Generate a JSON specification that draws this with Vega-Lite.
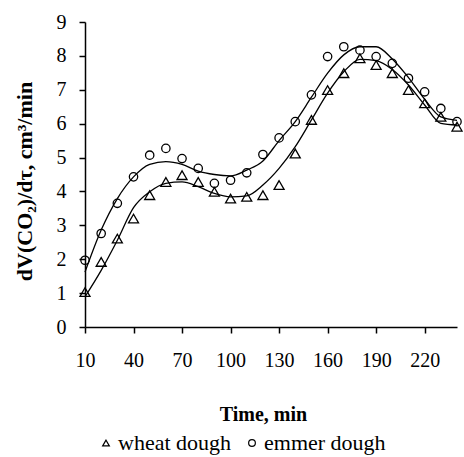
{
 "$schema": "https://vega.github.io/schema/vega-lite/v6.json",
 "width": 372,
 "height": 305,
 "autosize": {"type": "none"},
 "padding": {"left": 85, "top": 22, "right": 7, "bottom": 130},
 "background": "white",
 "config": {
  "view": {"stroke": null},
  "font": "Liberation Serif",
  "axis": {
   "domainColor": "black", "tickColor": "black", "labelColor": "black", "titleColor": "black",
   "labelFont": "Liberation Serif", "titleFont": "Liberation Serif",
   "labelFontSize": 20, "domainWidth": 1.5, "tickWidth": 1.5, "tickSize": 6, "grid": false
  },
  "legend": {"labelFont": "Liberation Serif", "labelColor": "black"}
 },
 "data": {"values": [
  {"series": "wheat dough", "kind": "obs", "time": 10, "value": 1.03},
  {"series": "wheat dough", "kind": "obs", "time": 20, "value": 1.92},
  {"series": "wheat dough", "kind": "obs", "time": 30, "value": 2.61},
  {"series": "wheat dough", "kind": "obs", "time": 40, "value": 3.20},
  {"series": "wheat dough", "kind": "obs", "time": 50, "value": 3.89},
  {"series": "wheat dough", "kind": "obs", "time": 60, "value": 4.28},
  {"series": "wheat dough", "kind": "obs", "time": 70, "value": 4.48},
  {"series": "wheat dough", "kind": "obs", "time": 80, "value": 4.28},
  {"series": "wheat dough", "kind": "obs", "time": 90, "value": 3.99},
  {"series": "wheat dough", "kind": "obs", "time": 100, "value": 3.79},
  {"series": "wheat dough", "kind": "obs", "time": 110, "value": 3.84},
  {"series": "wheat dough", "kind": "obs", "time": 120, "value": 3.89},
  {"series": "wheat dough", "kind": "obs", "time": 130, "value": 4.19},
  {"series": "wheat dough", "kind": "obs", "time": 140, "value": 5.12},
  {"series": "wheat dough", "kind": "obs", "time": 150, "value": 6.11},
  {"series": "wheat dough", "kind": "obs", "time": 160, "value": 6.99},
  {"series": "wheat dough", "kind": "obs", "time": 170, "value": 7.49},
  {"series": "wheat dough", "kind": "obs", "time": 180, "value": 7.93},
  {"series": "wheat dough", "kind": "obs", "time": 190, "value": 7.73},
  {"series": "wheat dough", "kind": "obs", "time": 200, "value": 7.49},
  {"series": "wheat dough", "kind": "obs", "time": 210, "value": 6.99},
  {"series": "wheat dough", "kind": "obs", "time": 220, "value": 6.60},
  {"series": "wheat dough", "kind": "obs", "time": 230, "value": 6.20},
  {"series": "wheat dough", "kind": "obs", "time": 240, "value": 5.91},
  {"series": "emmer dough", "kind": "obs", "time": 10, "value": 1.97},
  {"series": "emmer dough", "kind": "obs", "time": 20, "value": 2.76},
  {"series": "emmer dough", "kind": "obs", "time": 30, "value": 3.65},
  {"series": "emmer dough", "kind": "obs", "time": 40, "value": 4.43},
  {"series": "emmer dough", "kind": "obs", "time": 50, "value": 5.07},
  {"series": "emmer dough", "kind": "obs", "time": 60, "value": 5.27},
  {"series": "emmer dough", "kind": "obs", "time": 70, "value": 4.97},
  {"series": "emmer dough", "kind": "obs", "time": 80, "value": 4.68},
  {"series": "emmer dough", "kind": "obs", "time": 90, "value": 4.24},
  {"series": "emmer dough", "kind": "obs", "time": 100, "value": 4.33},
  {"series": "emmer dough", "kind": "obs", "time": 110, "value": 4.55},
  {"series": "emmer dough", "kind": "obs", "time": 120, "value": 5.09},
  {"series": "emmer dough", "kind": "obs", "time": 130, "value": 5.58},
  {"series": "emmer dough", "kind": "obs", "time": 140, "value": 6.06},
  {"series": "emmer dough", "kind": "obs", "time": 150, "value": 6.85},
  {"series": "emmer dough", "kind": "obs", "time": 160, "value": 7.98},
  {"series": "emmer dough", "kind": "obs", "time": 170, "value": 8.27},
  {"series": "emmer dough", "kind": "obs", "time": 180, "value": 8.17},
  {"series": "emmer dough", "kind": "obs", "time": 190, "value": 7.98},
  {"series": "emmer dough", "kind": "obs", "time": 200, "value": 7.78},
  {"series": "emmer dough", "kind": "obs", "time": 210, "value": 7.34},
  {"series": "emmer dough", "kind": "obs", "time": 220, "value": 6.94},
  {"series": "emmer dough", "kind": "obs", "time": 230, "value": 6.45},
  {"series": "emmer dough", "kind": "obs", "time": 240, "value": 6.06},
  {"series": "wheat dough", "kind": "fit", "time": 10, "value": 0.89},
  {"series": "wheat dough", "kind": "fit", "time": 20, "value": 1.67},
  {"series": "wheat dough", "kind": "fit", "time": 30, "value": 2.56},
  {"series": "wheat dough", "kind": "fit", "time": 40, "value": 3.52},
  {"series": "wheat dough", "kind": "fit", "time": 50, "value": 3.99},
  {"series": "wheat dough", "kind": "fit", "time": 60, "value": 4.24},
  {"series": "wheat dough", "kind": "fit", "time": 70, "value": 4.28},
  {"series": "wheat dough", "kind": "fit", "time": 80, "value": 4.14},
  {"series": "wheat dough", "kind": "fit", "time": 90, "value": 3.94},
  {"series": "wheat dough", "kind": "fit", "time": 100, "value": 3.84},
  {"series": "wheat dough", "kind": "fit", "time": 110, "value": 3.87},
  {"series": "wheat dough", "kind": "fit", "time": 120, "value": 4.19},
  {"series": "wheat dough", "kind": "fit", "time": 130, "value": 4.68},
  {"series": "wheat dough", "kind": "fit", "time": 140, "value": 5.32},
  {"series": "wheat dough", "kind": "fit", "time": 150, "value": 6.11},
  {"series": "wheat dough", "kind": "fit", "time": 160, "value": 6.90},
  {"series": "wheat dough", "kind": "fit", "time": 170, "value": 7.53},
  {"series": "wheat dough", "kind": "fit", "time": 180, "value": 7.90},
  {"series": "wheat dough", "kind": "fit", "time": 190, "value": 7.86},
  {"series": "wheat dough", "kind": "fit", "time": 200, "value": 7.60},
  {"series": "wheat dough", "kind": "fit", "time": 210, "value": 7.14},
  {"series": "wheat dough", "kind": "fit", "time": 220, "value": 6.55},
  {"series": "wheat dough", "kind": "fit", "time": 230, "value": 6.01},
  {"series": "wheat dough", "kind": "fit", "time": 240, "value": 5.96},
  {"series": "emmer dough", "kind": "fit", "time": 10, "value": 1.62},
  {"series": "emmer dough", "kind": "fit", "time": 20, "value": 2.86},
  {"series": "emmer dough", "kind": "fit", "time": 30, "value": 3.79},
  {"series": "emmer dough", "kind": "fit", "time": 40, "value": 4.43},
  {"series": "emmer dough", "kind": "fit", "time": 50, "value": 4.80},
  {"series": "emmer dough", "kind": "fit", "time": 60, "value": 4.88},
  {"series": "emmer dough", "kind": "fit", "time": 70, "value": 4.80},
  {"series": "emmer dough", "kind": "fit", "time": 80, "value": 4.60},
  {"series": "emmer dough", "kind": "fit", "time": 90, "value": 4.50},
  {"series": "emmer dough", "kind": "fit", "time": 100, "value": 4.46},
  {"series": "emmer dough", "kind": "fit", "time": 110, "value": 4.63},
  {"series": "emmer dough", "kind": "fit", "time": 120, "value": 4.90},
  {"series": "emmer dough", "kind": "fit", "time": 130, "value": 5.50},
  {"series": "emmer dough", "kind": "fit", "time": 140, "value": 6.06},
  {"series": "emmer dough", "kind": "fit", "time": 150, "value": 6.78},
  {"series": "emmer dough", "kind": "fit", "time": 160, "value": 7.49},
  {"series": "emmer dough", "kind": "fit", "time": 170, "value": 8.03},
  {"series": "emmer dough", "kind": "fit", "time": 180, "value": 8.27},
  {"series": "emmer dough", "kind": "fit", "time": 190, "value": 8.27},
  {"series": "emmer dough", "kind": "fit", "time": 200, "value": 7.91},
  {"series": "emmer dough", "kind": "fit", "time": 210, "value": 7.36},
  {"series": "emmer dough", "kind": "fit", "time": 220, "value": 6.72},
  {"series": "emmer dough", "kind": "fit", "time": 230, "value": 6.20},
  {"series": "emmer dough", "kind": "fit", "time": 240, "value": 6.10}
 ]},
 "encoding": {
  "x": {
   "field": "time", "type": "quantitative",
   "scale": {"domain": [10, 240], "nice": false, "zero": false},
   "axis": {
    "values": [10, 40, 70, 100, 130, 160, 190, 220],
    "title": "Time, min", "titleFontSize": 20, "titleFontWeight": "bold",
    "titleX": 178, "titleY": 93, "titleBaseline": "alphabetic",
    "labelPadding": 17, "labelFlush": false
   }
  },
  "y": {
   "field": "value", "type": "quantitative",
   "scale": {"domain": [0, 9], "nice": false},
   "axis": {
    "values": [0, 1, 2, 3, 4, 5, 6, 7, 8, 9],
    "title": "dV(CO₂)/dτ, cm³/min", "titleFontSize": 22, "titleFontWeight": "bold",
    "titleX": -54, "titleY": 159, "titleBaseline": "alphabetic", "titleAngle": -90, "titleAlign": "center",
    "labelPadding": 13
   }
  }
 },
 "layer": [
  {
   "transform": [{"filter": "datum.kind === 'fit'"}],
   "mark": {"type": "line", "interpolate": "monotone", "color": "black", "strokeWidth": 1.3},
   "encoding": {"detail": {"field": "series"}}
  },
  {
   "transform": [{"filter": "datum.kind === 'obs'"}],
   "mark": {"type": "point", "filled": false, "color": "black", "strokeWidth": 1.3, "opacity": 1},
   "encoding": {
    "shape": {
     "field": "series", "type": "nominal",
     "scale": {"domain": ["wheat dough", "emmer dough"], "range": ["triangle-up", "circle"]},
     "legend": {
      "title": null, "orient": "none", "direction": "horizontal",
      "legendX": 10, "legendY": 410, "padding": 0,
      "labelFont": "Liberation Serif", "labelFontSize": 22, "labelColor": "black",
      "symbolSize": 45, "symbolStrokeWidth": 1.2,
      "symbolStrokeColor": "black", "labelOffset": 1, "columnPadding": 9
     }
    },
    "size": {
     "condition": {"test": "datum.series === 'emmer dough'", "value": 70},
     "value": 100
    }
   }
  }
 ]
}
